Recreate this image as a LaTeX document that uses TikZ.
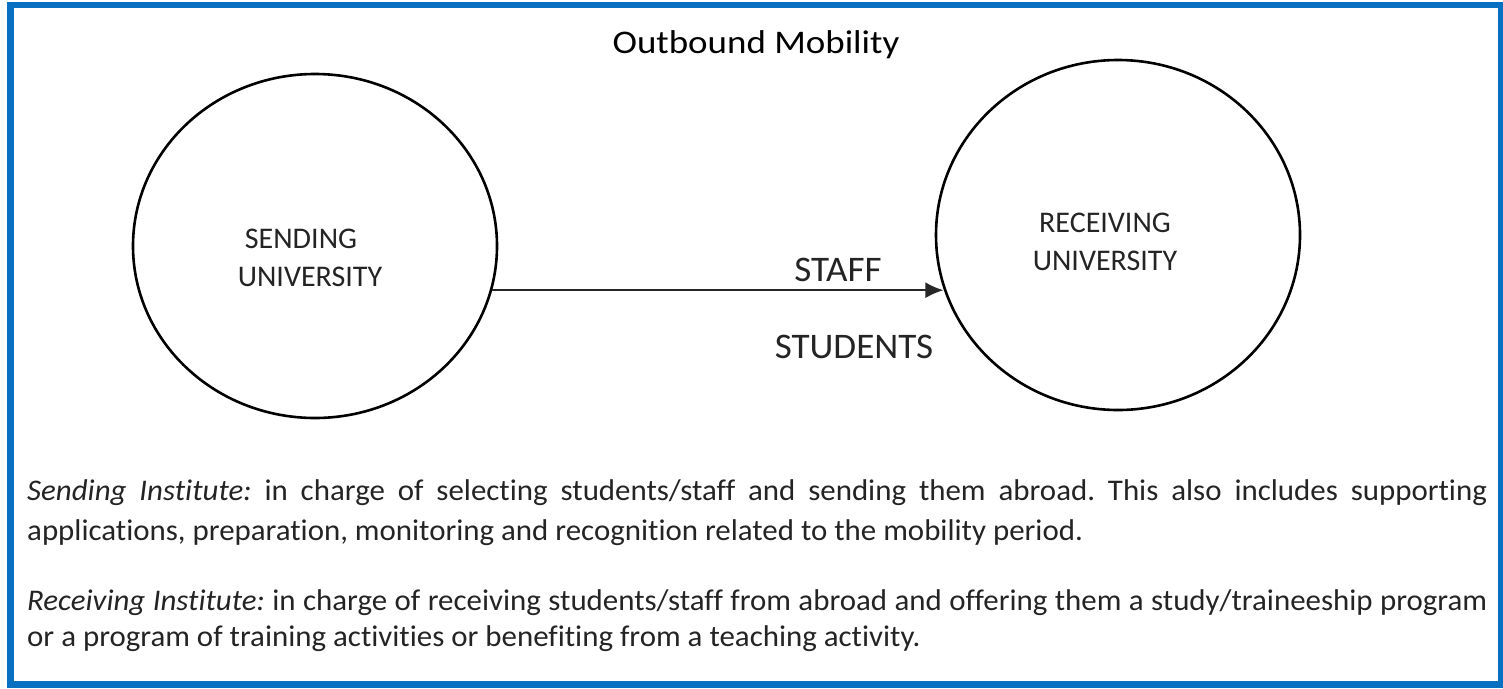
\documentclass[tikz,border=0pt]{standalone}
\usepackage{fontspec}
\setmainfont{Carlito}[RawFeature={-liga}]
\newfontfamily\bodyfont{Carlito}[FakeStretch=1.03,RawFeature={-liga}]
\newfontfamily\titlefont{Carlito}[FakeStretch=1.12,RawFeature={-liga}]
\usetikzlibrary{arrows.meta,shapes.geometric}
\definecolor{frameblue}{HTML}{0A70C2}
\definecolor{txt}{HTML}{242424}
\tikzset{
  uni/.style={draw=black, line width=2.6pt, ellipse, inner sep=0pt},
  unilabel/.style={align=center, text=txt, font=\fontsize{30}{38}\selectfont},
  flowlabel/.style={text=txt, font=\bodyfont\fontsize{36}{40}\selectfont},
  para/.style={text width=1460pt, align=justify, inner sep=0pt, text=txt, anchor=base west},
  flow/.style={-{Latex[length=18pt,width=16pt]}, line width=1.6pt, draw=black!85}
}
\begin{document}
\frenchspacing
\hyphenpenalty=10000
\exhyphenpenalty=10000
\begin{tikzpicture}[x=1pt,y=-1pt]
\useasboundingbox (0,0) rectangle (1503,688);
\fill[white] (0,0) rectangle (1503,688);
\draw[frameblue, line width=6.5pt] (10.25,5) rectangle (1500.75,684.5);

\node[font=\titlefont\fontsize{33}{40}\selectfont, text=black] (title) at (756,45) {Outbound Mobility};

\node[uni, minimum width=364pt, minimum height=344pt] (s) at (315,246) {};
\node[uni, minimum width=364pt, minimum height=350pt] (r) at (1118,235) {};

\node[unilabel] (sl) at (310,258) {SENDING\hspace*{18pt}\\UNIVERSITY};
\node[unilabel] (rl) at (1105,242) {RECEIVING\\UNIVERSITY};

\coordinate (a0) at (s.-14);
\draw[flow] (a0) -- (a0 -| r.197);

\node[flowlabel] (staff) at (838,270) {STAFF};
\node[flowlabel] (stud) at (854,347) {STUDENTS};

\node[para, font=\bodyfont\fontsize{30}{40}\selectfont] (p1) at (27,500) {\textit{Sending Institute:} in charge of selecting students/staff and sending them abroad. This also includes supporting applications, preparation, monitoring and recognition related to the mobility period.};
\node[para, font=\bodyfont\fontsize{30}{36}\selectfont] (p2) at (27,610) {\textit{Receiving Institute:} in charge of receiving students/staff from abroad and offering them a study/traineeship program or a program of training activities or benefiting from a teaching activity.};
\end{tikzpicture}
\end{document}
